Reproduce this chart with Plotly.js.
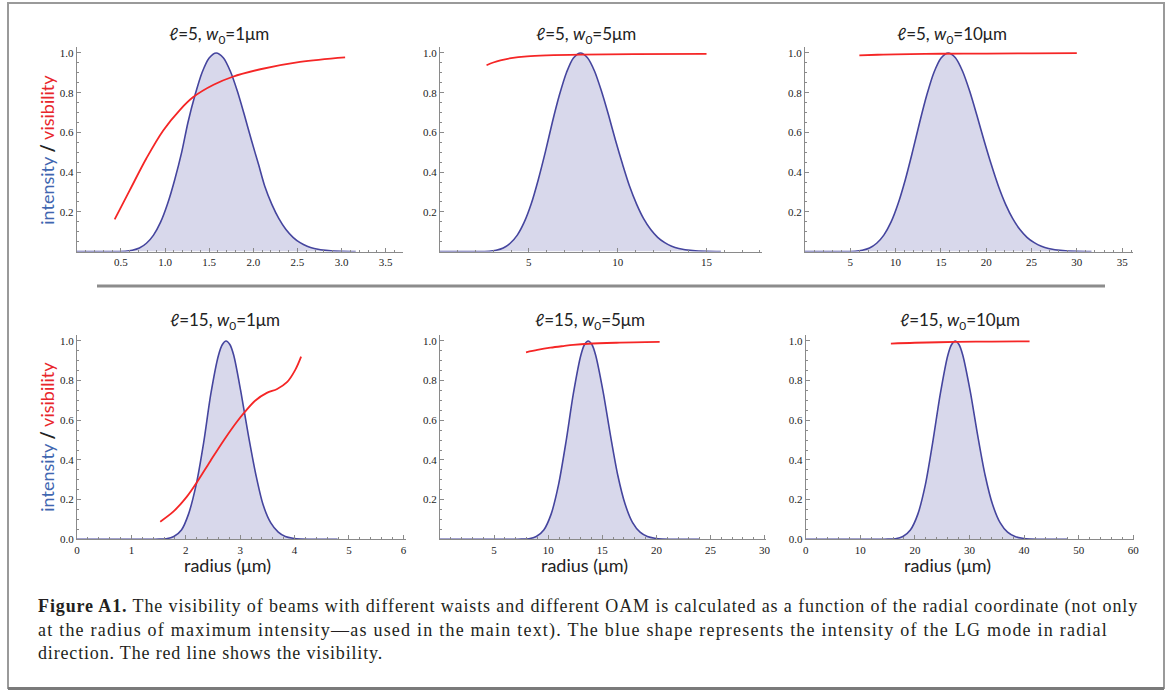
<!DOCTYPE html>
<html><head><meta charset="utf-8">
<script src="https://cdn.plot.ly/plotly-3.0.1.min.js"></script>
<style>
html,body{margin:0;padding:0;background:#fff;}
#wrap{position:relative;width:1168px;height:691px;overflow:hidden;background:#fff;}
#chart{position:absolute;left:0;top:0;width:1168px;height:691px;}
#caption{position:absolute;left:38px;top:595px;font-family:'Liberation Serif','DejaVu Serif',serif;font-size:18px;line-height:23.5px;color:#231f20;white-space:nowrap;}
#caption .ln{width:max-content;}
</style></head>
<body><div id="wrap"><div id="chart"></div>
<div id="caption"><div class="ln" data-w="1100"><b>Figure A1.</b> The visibility of beams with different waists and different OAM is calculated as a function of the radial coordinate (not only</div><div class="ln" data-w="1070">at the radius of maximum intensity—as used in the main text). The blue shape represents the intensity of the LG mode in radial</div><div class="ln" data-w="345">direction. The red line shows the visibility.</div></div>
</div>
<script>
// ---------- DATA ----------
// Panel A: l=5, w0=1 um
const rA = [0, 0.30, 0.55, 0.63, 0.71, 0.79, 0.87, 0.95, 1.03, 1.11, 1.19, 1.26, 1.34, 1.42, 1.50, 1.58, 1.66, 1.74, 1.82, 1.90, 1.98, 2.06, 2.13, 2.21, 2.29, 2.37, 2.45, 2.53, 2.61, 2.69, 2.85, 3.00, 3.16];
const iA = [0, 0, 0.002, 0.007, 0.018, 0.042, 0.083, 0.148, 0.242, 0.362, 0.502, 0.650, 0.788, 0.902, 0.975, 1.000, 0.976, 0.908, 0.807, 0.686, 0.559, 0.438, 0.329, 0.238, 0.166, 0.111, 0.072, 0.045, 0.027, 0.016, 0.005, 0.001, 0.000];
const vrA = [0.43, 0.60, 0.79, 0.98, 1.17, 1.32, 1.55, 1.76, 2.08, 2.53, 3.04];
const visA = [0.162, 0.308, 0.470, 0.610, 0.714, 0.778, 0.840, 0.879, 0.918, 0.955, 0.978];

// Panel B: l=5, w0=5 um
const rB = [0, 2.00, 2.77, 3.16, 3.56, 3.95, 4.35, 4.74, 5.14, 5.53, 5.93, 6.32, 6.72, 7.12, 7.51, 7.91, 8.30, 8.70, 9.09, 9.49, 9.88, 10.28, 10.67, 11.07, 11.46, 11.86, 12.25, 12.65, 13.04, 13.44, 14.23, 15.02, 15.81];
const iB = [0, 0, 0.002, 0.007, 0.018, 0.042, 0.083, 0.148, 0.242, 0.362, 0.502, 0.650, 0.788, 0.902, 0.975, 1.000, 0.976, 0.908, 0.807, 0.686, 0.559, 0.438, 0.329, 0.238, 0.166, 0.111, 0.072, 0.045, 0.027, 0.016, 0.005, 0.001, 0.000];
const vrB = [2.62, 3.0, 3.4, 4.0, 4.9, 6.0, 7.9, 10.9, 15.0];
const visB = [0.938, 0.952, 0.963, 0.974, 0.983, 0.988, 0.992, 0.994, 0.995];

// Panel C: l=5, w0=10 um
const rC = [0, 4.00, 5.53, 6.32, 7.12, 7.91, 8.70, 9.49, 10.28, 11.07, 11.86, 12.65, 13.44, 14.23, 15.02, 15.81, 16.60, 17.39, 18.18, 18.97, 19.76, 20.56, 21.35, 22.14, 22.93, 23.72, 24.50, 25.30, 26.09, 26.88, 28.46, 30.04, 31.62];
const iC = [0, 0, 0.002, 0.007, 0.018, 0.042, 0.083, 0.148, 0.242, 0.362, 0.502, 0.650, 0.788, 0.902, 0.975, 1.000, 0.976, 0.908, 0.807, 0.686, 0.559, 0.438, 0.329, 0.238, 0.166, 0.111, 0.072, 0.045, 0.027, 0.016, 0.005, 0.001, 0.000];
const vrC = [6.0, 8.0, 10.0, 15.0, 20.0, 25.0, 30.0];
const visC = [0.988, 0.991, 0.993, 0.996, 0.997, 0.998, 0.999];

// Panel D: l=15, w0=1 um
const rD = [0, 1.00, 1.37, 1.51, 1.64, 1.78, 1.92, 2.05, 2.19, 2.33, 2.46, 2.60, 2.67, 2.74, 2.81, 2.88, 3.01, 3.15, 3.29, 3.42, 3.56, 3.70, 3.83, 3.97, 4.11, 4.38, 4.79];
const iD = [0, 0, 0.000, 0.001, 0.003, 0.014, 0.047, 0.127, 0.274, 0.490, 0.733, 0.927, 0.981, 1.000, 0.982, 0.929, 0.748, 0.525, 0.323, 0.175, 0.084, 0.036, 0.014, 0.005, 0.001, 0.000, 0];
const vrD = [1.53, 1.78, 2.02, 2.21, 2.45, 2.70, 2.94, 3.09, 3.28, 3.49, 3.68, 3.86, 4.01, 4.12];
const visD = [0.089, 0.142, 0.215, 0.290, 0.394, 0.500, 0.593, 0.644, 0.700, 0.738, 0.758, 0.792, 0.853, 0.921];

// Panel E: l=15, w0=5 um
const rE = [0, 5.00, 6.85, 7.53, 8.22, 8.90, 9.59, 10.27, 10.95, 11.64, 12.32, 13.01, 13.35, 13.69, 14.04, 14.38, 15.06, 15.75, 16.43, 17.12, 17.80, 18.49, 19.17, 19.85, 20.54, 21.91, 23.96];
const iE = [0, 0, 0.000, 0.001, 0.003, 0.014, 0.047, 0.127, 0.274, 0.490, 0.733, 0.927, 0.981, 1.000, 0.982, 0.929, 0.748, 0.525, 0.323, 0.175, 0.084, 0.036, 0.014, 0.005, 0.001, 0.000, 0];
const vrE = [7.95, 9.0, 10.2, 11.5, 12.3, 13.7, 16.3, 20.3];
const visE = [0.943, 0.955, 0.966, 0.975, 0.980, 0.986, 0.991, 0.995];

// Panel F: l=15, w0=10 um
const rF = [0, 10.0, 13.69, 15.06, 16.43, 17.80, 19.17, 20.54, 21.91, 23.27, 24.65, 26.02, 26.70, 27.39, 28.07, 28.76, 30.12, 31.49, 32.86, 34.23, 35.60, 36.97, 38.34, 39.71, 41.08, 43.82, 47.92];
const iF = [0, 0, 0.000, 0.001, 0.003, 0.014, 0.047, 0.127, 0.274, 0.490, 0.733, 0.927, 0.981, 1.000, 0.982, 0.929, 0.748, 0.525, 0.323, 0.175, 0.084, 0.036, 0.014, 0.005, 0.001, 0.000, 0];
const vrF = [15.6, 20.0, 27.6, 34.0, 41.0];
const visF = [0.987, 0.991, 0.995, 0.997, 0.998];

// Tick labels
const xtA = [0.5, 1.0, 1.5, 2.0, 2.5, 3.0, 3.5];
const xlA = ['0.5', '1.0', '1.5', '2.0', '2.5', '3.0', '3.5'];
const xtB = [5, 10, 15];
const xtC = [5, 10, 15, 20, 25, 30, 35];
const xtD = [0, 1, 2, 3, 4, 5, 6];
const xtE = [5, 10, 15, 20, 25, 30];
const xtF = [0, 10, 20, 30, 40, 50, 60];
const ytNoZero = [0.2, 0.4, 0.6, 0.8, 1.0];
const ylNoZero = ['0.2', '0.4', '0.6', '0.8', '1.0'];
const ytZero = [0, 0.2, 0.4, 0.6, 0.8, 1.0];
const ylZero = ['0.0', '0.2', '0.4', '0.6', '0.8', '1.0'];

const titles = ['ℓ=5, <i>w</i><sub>0</sub>=1μm', 'ℓ=5, <i>w</i><sub>0</sub>=5μm', 'ℓ=5, <i>w</i><sub>0</sub>=10μm',
                'ℓ=15, <i>w</i><sub>0</sub>=1μm', 'ℓ=15, <i>w</i><sub>0</sub>=5μm', 'ℓ=15, <i>w</i><sub>0</sub>=10μm'];

// ---------- LAYOUT ----------
const W = 1168, H = 691;
const fx = v => v / W, fy = v => 1 - v / H;

const panels = [
  {r: rA, I: iA, vr: vrA, v: visA, xd: [76.7, 403.4], yd: [251.6, 47.0], xr: [0, 3.7], xt: xtA, xl: xlA, xm: 0.1, yt: ytNoZero, yl: ylNoZero, tx: 219, ty: 35},
  {r: rB, I: iB, vr: vrB, v: visB, xd: [440, 761.6], yd: [251.6, 47.0], xr: [0, 18.1], xt: xtB, xl: xtB.map(String), xm: 1, yt: ytNoZero, yl: ylNoZero, tx: 586, ty: 35},
  {r: rC, I: iC, vr: vrC, v: visC, xd: [805, 1133], yd: [251.6, 47.0], xr: [0, 36.2], xt: xtC, xl: xtC.map(String), xm: 1, yt: ytNoZero, yl: ylNoZero, tx: 952, ty: 35},
  {r: rD, I: iD, vr: vrD, v: visD, xd: [77, 406.1], yd: [539.3, 335.0], xr: [0, 6.05], xt: xtD, xl: xtD.map(String), xm: 0.2, yt: ytZero, yl: ylZero, tx: 225, ty: 321},
  {r: rE, I: iE, vr: vrE, v: visE, xd: [440, 765.7], yd: [539.3, 335.0], xr: [0, 30.1], xt: xtE, xl: xtE.map(String), xm: 1, yt: ytNoZero, yl: ylNoZero, tx: 590, ty: 321},
  {r: rF, I: iF, vr: vrF, v: visF, xd: [805.7, 1134.4], yd: [539.3, 335.0], xr: [0, 60.2], xt: xtF, xl: xtF.map(String), xm: 2, yt: ytZero, yl: ylZero, tx: 960, ty: 321}
];

const axisColor = '#8a8a8a';
const tickFont = {family: 'Liberation Serif, DejaVu Serif, serif', size: 11, color: '#222'};
const sansFont = 'Lato, Open Sans, DejaVu Sans, sans-serif';

const data = [];
const layout = {
  width: W, height: H, margin: {l: 0, r: 0, t: 0, b: 0},
  paper_bgcolor: '#ffffff', plot_bgcolor: 'rgba(0,0,0,0)',
  showlegend: false, annotations: [], shapes: []
};

panels.forEach((p, k) => {
  const n = k === 0 ? '' : String(k + 1);
  const xa = 'x' + n, ya = 'y' + n;
  data.push({
    x: p.r, y: p.I, xaxis: xa, yaxis: ya, type: 'scatter', mode: 'lines',
    line: {color: '#45459e', width: 1.6, shape: 'spline', smoothing: 0.8},
    fill: 'tozeroy', fillcolor: 'rgba(61,61,153,0.2)', hoverinfo: 'skip'
  });
  data.push({
    x: p.vr, y: p.v, xaxis: xa, yaxis: ya, type: 'scatter', mode: 'lines',
    line: {color: '#f52626', width: 1.8, shape: 'spline', smoothing: 1}, hoverinfo: 'skip'
  });
  layout['xaxis' + n] = {
    domain: [fx(p.xd[0]), fx(p.xd[1])], range: p.xr, anchor: ya,
    showline: true, linecolor: axisColor, linewidth: 1, zeroline: false, showgrid: false,
    tickmode: 'array', tickvals: p.xt, ticktext: p.xl, ticks: 'inside', ticklen: 4,
    tickcolor: axisColor, tickfont: tickFont,
    minor: {tickmode: 'linear', tick0: 0, dtick: p.xm, ticks: 'inside', ticklen: 2, tickcolor: axisColor, showgrid: false},
    fixedrange: true
  };
  layout['yaxis' + n] = {
    domain: [fy(p.yd[0]), fy(p.yd[1])], range: [0, 1.03], anchor: xa,
    showline: true, linecolor: axisColor, linewidth: 1, zeroline: false, showgrid: false,
    tickmode: 'array', tickvals: p.yt, ticktext: p.yl, ticks: 'inside', ticklen: 4,
    tickcolor: axisColor, tickfont: tickFont,
    minor: {tickmode: 'linear', tick0: 0, dtick: 0.05, ticks: 'inside', ticklen: 2, tickcolor: axisColor, showgrid: false},
    fixedrange: true
  };
  layout.annotations.push({
    xref: 'paper', yref: 'paper', x: fx(p.tx), y: fy(p.ty), xanchor: 'center', yanchor: 'middle',
    text: titles[k], showarrow: false, font: {family: sansFont, size: 17, color: '#222'}
  });
});

// y-axis titles
[[46.7, 150], [46.7, 437]].forEach(([x, y]) => {
  layout.annotations.push({
    xref: 'paper', yref: 'paper', x: fx(x), y: fy(y), xanchor: 'center', yanchor: 'middle',
    textangle: -90, showarrow: false,
    text: '<span style="color:#3f66b0">intensity</span> <b>/</b> <span style="color:#e8262b">visibility</span>',
    font: {family: sansFont, size: 18, color: '#222'}
  });
});
// x-axis titles
[227, 584, 947].forEach(x => {
  layout.annotations.push({
    xref: 'paper', yref: 'paper', x: fx(x), y: fy(565), xanchor: 'center', yanchor: 'middle',
    text: 'radius (μm)', showarrow: false, font: {family: sansFont, size: 18, color: '#222'}
  });
});

// frame and separator
layout.shapes.push({type: 'rect', xref: 'paper', yref: 'paper', x0: fx(8), x1: fx(1164), y0: fy(688), y1: fy(3),
  line: {color: '#9a9a9a', width: 2}, fillcolor: 'rgba(0,0,0,0)'});
layout.shapes.push({type: 'line', xref: 'paper', yref: 'paper', x0: fx(8), x1: fx(1164), y0: fy(688.5), y1: fy(688.5),
  line: {color: '#7a7a7a', width: 3}});
layout.shapes.push({type: 'line', xref: 'paper', yref: 'paper', x0: fx(97), x1: fx(1105), y0: fy(286), y1: fy(286),
  line: {color: '#8c8c8c', width: 3}});

Plotly.newPlot('chart', data, layout, {staticPlot: true, displayModeBar: false});

// stretch each caption line to the width it has in the figure
(function fitCaption() {
  document.querySelectorAll('#caption .ln').forEach(el => {
    const target = parseFloat(el.dataset.w);
    const w = el.getBoundingClientRect().width;
    const ls = (target - w) / el.textContent.length;
    el.style.letterSpacing = ls.toFixed(3) + 'px';
  });
})();
</script></body></html>
